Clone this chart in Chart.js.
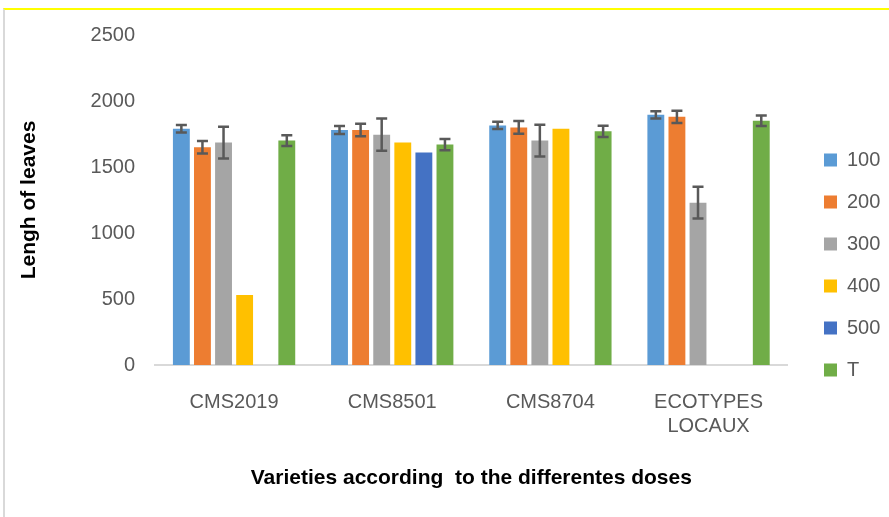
<!DOCTYPE html>
<html><head><meta charset="utf-8">
<script src="https://cdn.jsdelivr.net/npm/chart.js@4.4.1/dist/chart.umd.min.js"></script>
<style>
html,body{margin:0;padding:0;background:#fff;}
#wrap{position:relative;width:889px;height:517px;overflow:hidden;}
#frame{position:absolute;left:3px;top:8px;right:-2px;bottom:-2px;border-top:2px solid #ffff00;border-left:2px solid #d9d9d9;pointer-events:none;}
</style></head><body>
<div id="wrap"><canvas id="c" width="889" height="517"></canvas><div id="frame"></div></div>
<script>
const categories = ['CMS2019', 'CMS8501', 'CMS8704', ['ECOTYPES', 'LOCAUX']];
const doses = ['100', '200', '300', '400', '500', 'T'];
const dose100 = [1790, 1780, 1815, 1895];
const dose200 = [1650, 1780, 1800, 1880];
const dose300 = [1685, 1745, 1700, 1230];
const dose400 = [530, 1685, 1790, null];
const dose500 = [null, 1610, null, null];
const doseT   = [1700, 1670, 1770, 1850];
const err100 = [28, 30, 28, 28];
const err200 = [47, 47, 48, 47];
const err300 = [120, 122, 121, 121];
const err400 = [null, null, null, null];
const err500 = [null, null, null, null];
const errT   = [40, 43, 43, 40];
const yTicks = [0, 500, 1000, 1500, 2000, 2500];
const colors = ['#5B9BD5', '#ED7D31', '#A5A5A5', '#FFC000', '#4472C4', '#70AD47'];

const values = [dose100, dose200, dose300, dose400, dose500, doseT];
const errors = [err100, err200, err300, err400, err500, errT];
const FONT = "'Liberation Sans', Arial, sans-serif";

const errorBars = {
  id: 'errorBars',
  afterDatasetsDraw(chart) {
    const ctx = chart.ctx, y = chart.scales.y;
    ctx.save();
    ctx.strokeStyle = '#595959';
    ctx.lineWidth = 2.5;
    chart.data.datasets.forEach((ds, i) => {
      const meta = chart.getDatasetMeta(i);
      const errs = errors[i];
      meta.data.forEach((el, j) => {
        const v = ds.data[j], e = errs[j];
        if (v == null || e == null) return;
        const x = el.x;
        const yt = y.getPixelForValue(v + e), yb = y.getPixelForValue(v - e);
        ctx.beginPath();
        ctx.moveTo(x, yt); ctx.lineTo(x, yb);
        ctx.moveTo(x - 5.5, yt); ctx.lineTo(x + 5.5, yt);
        ctx.moveTo(x - 5.5, yb); ctx.lineTo(x + 5.5, yb);
        ctx.stroke();
      });
    });
    ctx.restore();
  }
};

const legendMover = {
  id: 'legendMover',
  afterLayout(chart) {
    const lg = chart.legend;
    if (!lg) return;
    const w = lg.width;
    lg.left = 802; lg.right = 802 + w;
    lg.top = 13; lg.bottom = 517;
  }
};

new Chart(document.getElementById('c'), {
  type: 'bar',
  data: {
    labels: categories,
    datasets: doses.map((d, i) => ({
      label: d,
      data: values[i],
      backgroundColor: colors[i],
      borderWidth: 0,
      categoryPercentage: 0.8,
      barPercentage: 0.8
    }))
  },
  options: {
    responsive: false,
    animation: false,
    layout: { padding: { left: 17, top: 35, bottom: 26, right: 13 } },
    plugins: {
      tooltip: { enabled: false },
      legend: {
        position: 'right',
        labels: {
          boxWidth: 13, boxHeight: 13, padding: 22,
          color: '#595959',
          font: { family: FONT, size: 20 }
        }
      }
    },
    scales: {
      x: {
        grid: { display: false, drawTicks: false },
        border: { display: true, color: '#d9d9d9', width: 2 },
        ticks: {
          color: '#595959', maxRotation: 0, autoSkip: false, padding: 25,
          font: { family: FONT, size: 20, lineHeight: 1.2 }
        },
        title: {
          display: true, text: 'Varieties according  to the differentes doses',
          color: '#000000', padding: 0,
          font: { family: FONT, size: 21, weight: 'bold', lineHeight: 1.2 }
        },
        afterFit(s) { s.height = 126; }
      },
      y: {
        min: 0, max: 2500,
        grid: { display: false, drawTicks: false },
        border: { display: false },
        afterBuildTicks(s) { s.ticks = yTicks.map(v => ({ value: v })); },
        ticks: {
          color: '#595959', padding: 20,
          font: { family: FONT, size: 20 },
          callback: v => String(v)
        },
        title: {
          display: true, text: 'Lengh of leaves',
          color: '#000000', padding: 0,
          font: { family: FONT, size: 21, weight: 'bold', lineHeight: 1.2 }
        },
        afterFit(s) { s.width = 138; }
      }
    }
  },
  plugins: [errorBars, legendMover]
});
</script>
</body></html>
